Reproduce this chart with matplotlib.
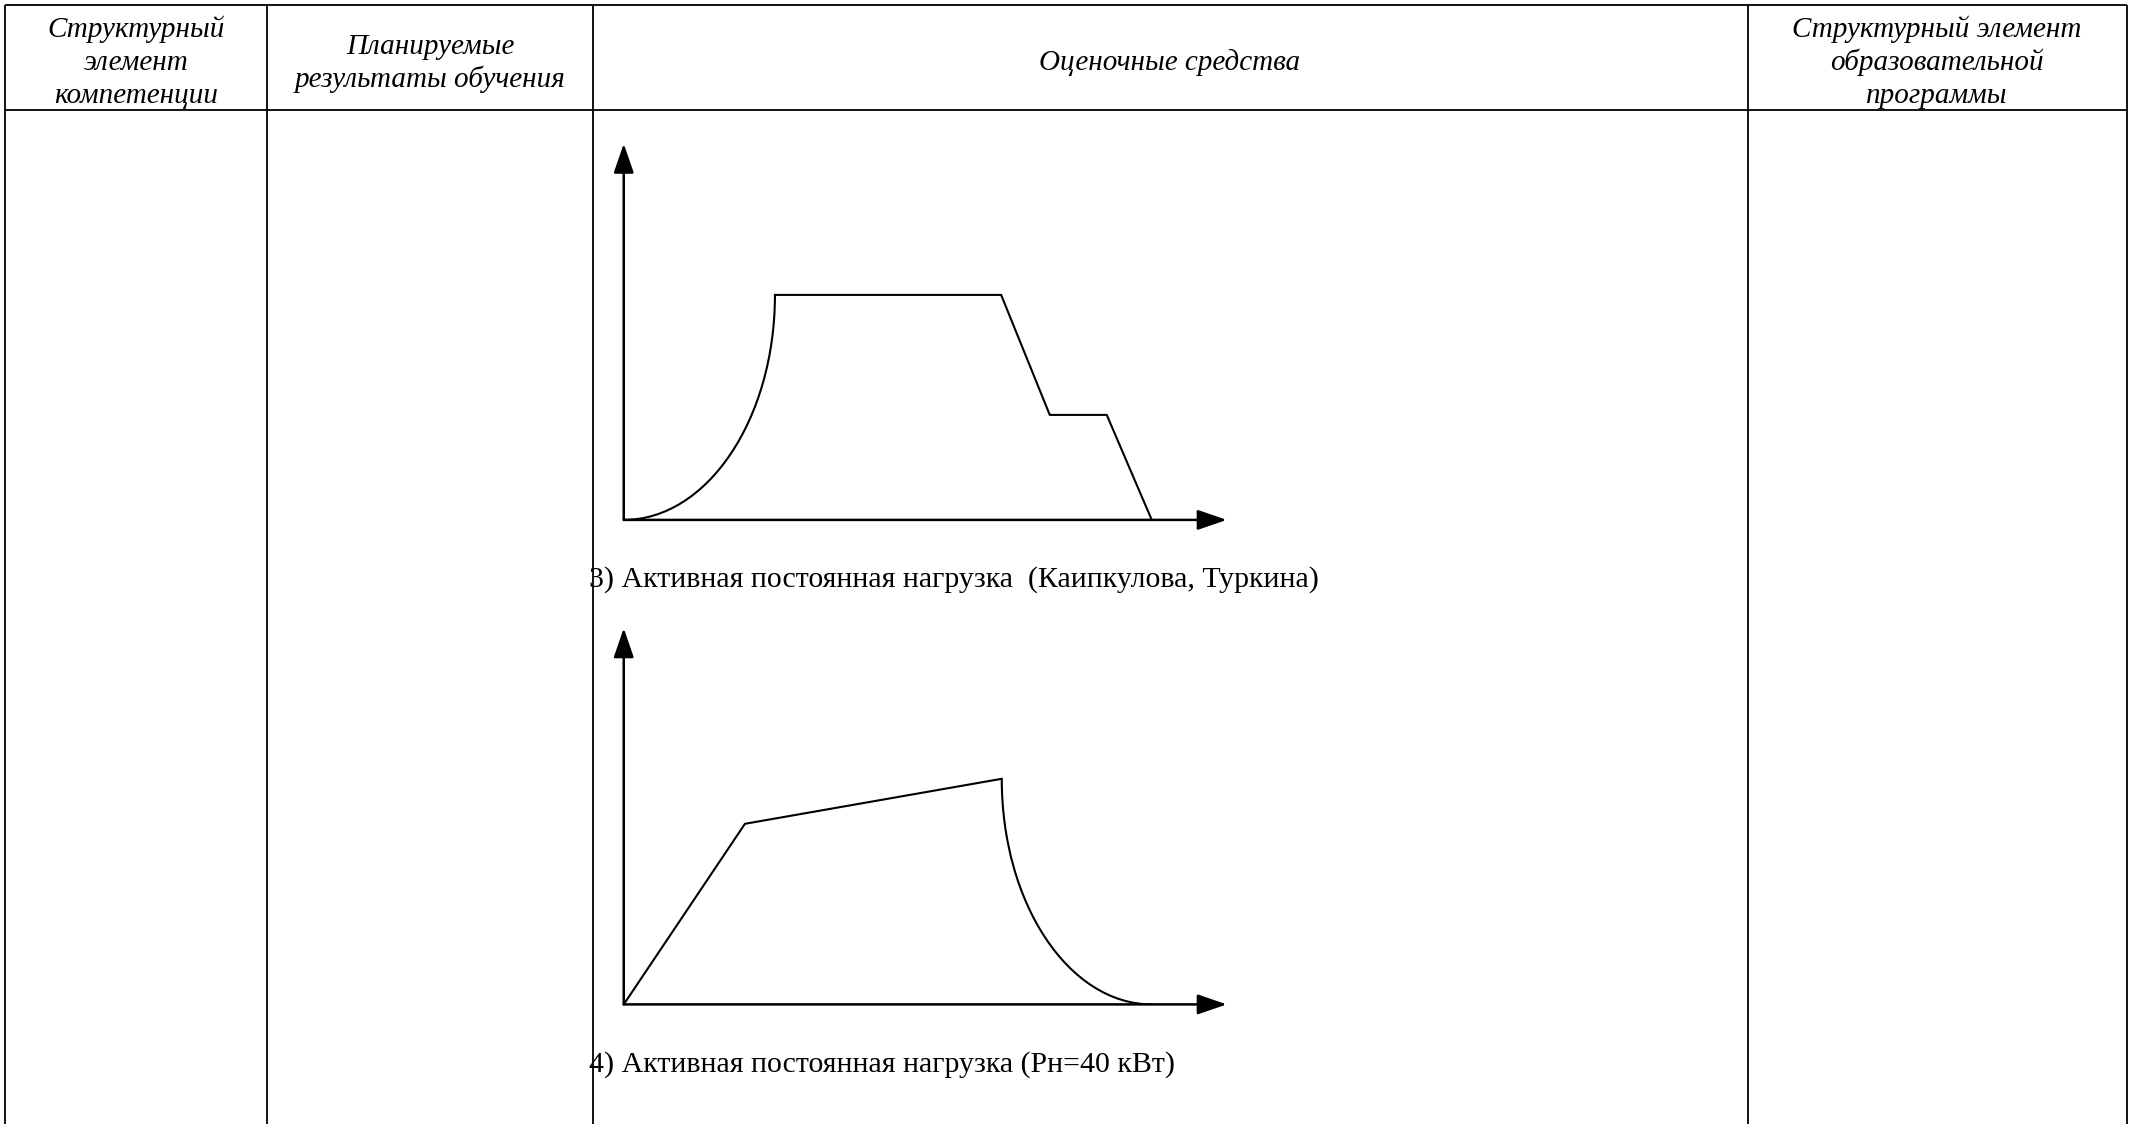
import matplotlib.pyplot as plt
from matplotlib.path import Path
from matplotlib.patches import PathPatch

# header texts of the table
head_col1 = ["Структурный", "элемент", "компетенции"]
head_col2 = ["Планируемые", "результаты обучения"]
head_col3 = ["Оценочные средства"]
head_col4 = ["Структурный элемент", "образовательной", "программы"]

caption3 = "3) Активная постоянная нагрузка  (Каипкулова, Туркина)"
caption4 = "4) Активная постоянная нагрузка (Рн=40 кВт)"

# load graph 3: rising curve (bezier control points) then straight segments
load3_rise = [(0.0, 0.0), (1.39, 0.0), (2.52, 1.68), (2.52, 3.75)]
load3_t = [2.52, 6.29, 7.10, 8.05, 8.80]
load3_p = [3.75, 3.75, 1.75, 1.75, 0.0]

# load graph 4: straight segments then falling curve (bezier control points)
load4_t = [0.0, 2.02, 6.30]
load4_p = [0.0, 3.01, 3.76]
load4_fall = [(6.30, 3.76), (6.30, 1.68), (7.42, 0.0), (8.80, 0.0)]

axis_len_t = 10.05
axis_len_p = 6.27

W, H = 2134, 1124
fig = plt.figure(figsize=(W / 100, H / 100), dpi=100)
plt.rcParams['font.family'] = ['Liberation Serif', 'DejaVu Serif']

# whole-page axes in pixel coordinates for the table
tab = fig.add_axes([0, 0, 1, 1])
tab.set_xlim(0, W)
tab.set_ylim(H, 0)
tab.axis('off')

col_x = [5, 267, 593, 1748, 2127]
top_y, head_y = 5, 110
lw_tab = 1.3
for x in col_x:
    tab.plot([x, x], [top_y, H], color='black', lw=lw_tab, solid_capstyle='butt')
for y in (top_y, head_y):
    tab.plot([col_x[0], col_x[-1]], [y, y], color='black', lw=lw_tab, solid_capstyle='butt')

fs_head = 21
head_kw = dict(ha='center', va='center', fontsize=fs_head, style='italic')
for i, s in enumerate(head_col1):
    tab.text(136, 29 + 33.5 * i, s, **head_kw)
for i, s in enumerate(head_col2):
    tab.text(430, 47 + 32 * i, s, **head_kw)
tab.text(1170, 63, head_col3[0], **head_kw)
for i, s in enumerate(head_col4):
    tab.text(1937, 29 + 33.5 * i, s, **head_kw)

fs_cap = 21.5
tab.text(589, 580, caption3, ha='left', va='center', fontsize=fs_cap)
tab.text(589, 1065, caption4, ha='left', va='center', fontsize=fs_cap)

# diagram axes: 1 unit = 60 px
unit = 60.0
xmax, ymax = 10.6, 6.6


def diagram_axes(ox, oy):
    ax = fig.add_axes([ox / W, (H - oy) / H, xmax * unit / W, ymax * unit / H])
    ax.set_xlim(0, xmax)
    ax.set_ylim(0, ymax)
    ax.axis('off')
    arr = dict(arrowstyle='-|>,head_length=1.8,head_width=0.62', color='black',
               lw=1.8, shrinkA=0, shrinkB=0, mutation_scale=10)
    ax.annotate('', xy=(axis_len_t, 0), xytext=(0, 0), arrowprops=arr, annotation_clip=False)
    ax.annotate('', xy=(0, axis_len_p), xytext=(0, 0), arrowprops=arr, annotation_clip=False)
    return ax


lw_curve = 1.5
ax3 = diagram_axes(623.75, 519.9)
ax3.add_patch(PathPatch(Path(load3_rise, [Path.MOVETO, Path.CURVE4, Path.CURVE4, Path.CURVE4]),
                        fill=False, lw=lw_curve, color='black'))
ax3.plot(load3_t, load3_p, color='black', lw=lw_curve)

ax4 = diagram_axes(623.75, 1004.4)
ax4.plot(load4_t, load4_p, color='black', lw=lw_curve)
ax4.add_patch(PathPatch(Path(load4_fall, [Path.MOVETO, Path.CURVE4, Path.CURVE4, Path.CURVE4]),
                        fill=False, lw=lw_curve, color='black'))

fig.savefig('out.png', dpi=100)
